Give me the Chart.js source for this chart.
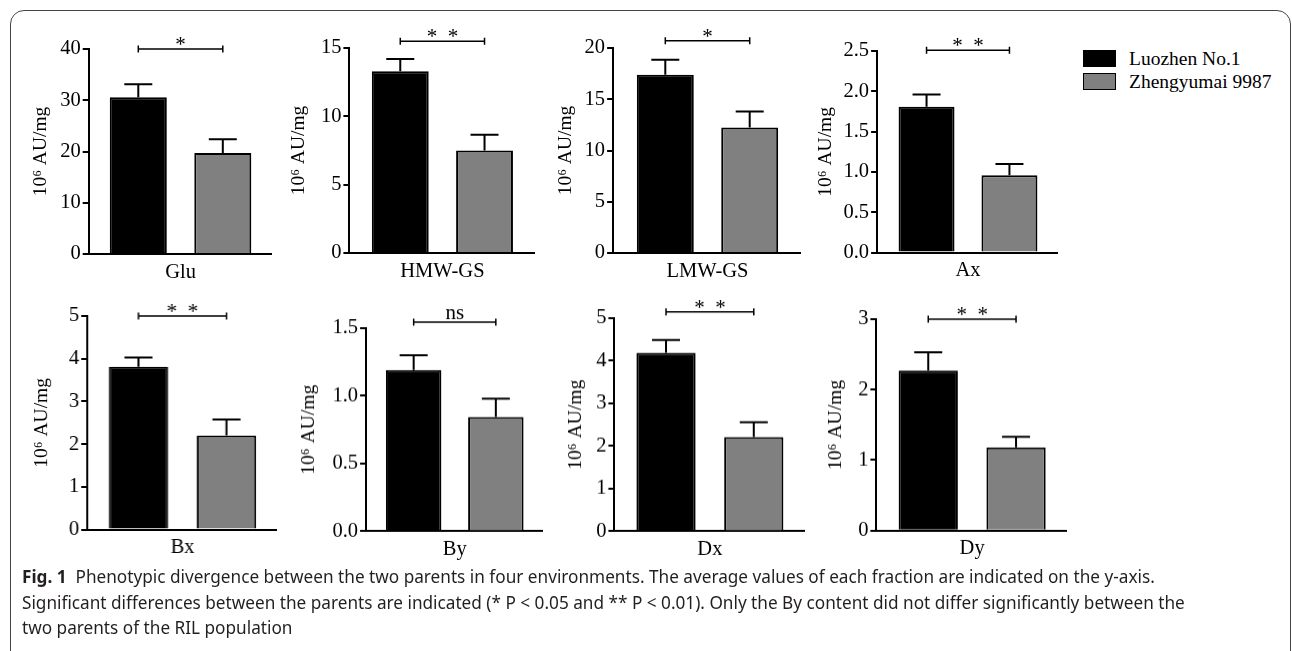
<!DOCTYPE html>
<html>
<head>
<meta charset="utf-8">
<script src="https://cdn.jsdelivr.net/npm/chart.js@4.4.0/dist/chart.umd.min.js"></script>
<style>
  body { margin: 0; background: #fff; width: 1292px; height: 651px; overflow: hidden; position: relative; }
  .frame { position: absolute; left: 10px; top: 10px; width: 1281px; height: 700px; border: 1.5px solid #444;
           border-radius: 14px 14px 0 0; box-sizing: border-box; }
  .panel { position: absolute; }
  .legend { position: absolute; left: 1083px; top: 50px; font-family: "Liberation Serif", serif; font-size: 19.5px; color: #000; }
  .legend .row { position: relative; height: 22.5px; }
  .legend .box { position: absolute; left: 0; top: 0; width: 33px; height: 17px; box-sizing: border-box; border: 1.5px solid #000; }
  .legend .txt { position: absolute; left: 46px; top: -2px; white-space: nowrap; }
  .caption { position: absolute; left: 22px; top: 564px; font-family: "Noto Sans", sans-serif; font-size: 17.2px;
             line-height: 25.5px; color: #231f20; white-space: nowrap; }
  .caption b { font-weight: 700; }
</style>
</head>
<body>
<div class="frame"></div>
<div id="charts"></div>
<div class="legend" id="legend"></div>
<div class="caption">
  <b>Fig. 1</b>&nbsp; Phenotypic divergence between the two parents in four environments. The average values of each fraction are indicated on the y-axis.<br>
  Significant differences between the parents are indicated (* P &lt; 0.05 and ** P &lt; 0.01). Only the By content did not differ significantly between the<br>
  two parents of the RIL population
</div>
<script>
// data van de figuur
var categories = ['Glu', 'HMW-GS', 'LMW-GS', 'Ax', 'Bx', 'By', 'Dx', 'Dy'];
var seriesNames = ['Luozhen No.1', 'Zhengyumai 9987'];
var luozhen = [30.6, 13.3, 17.4, 1.81, 3.81, 1.19, 4.19, 2.27];
var luozhenErr = [2.5, 0.9, 1.45, 0.15, 0.22, 0.11, 0.30, 0.26];
var zhengyumai = [19.7, 7.5, 12.25, 0.96, 2.2, 0.845, 2.21, 1.18];
var zhengyumaiErr = [2.7, 1.15, 1.55, 0.14, 0.38, 0.135, 0.35, 0.15];
var yMax = [40, 15, 20, 2.5, 5, 1.5, 5, 3];
var yStep = [10, 5, 5, 0.5, 1, 0.5, 1, 1];
var yDecimals = [0, 0, 0, 1, 0, 1, 0, 0];
var sigText = ['*', '*  *', '*', '*  *', '*  *', 'ns', '*  *', '*  *'];
var sigLevel = [40, 15.5, 20.7, 2.51, 5, 1.545, 5.15, 3];
var yTitle = '10\u2076 AU/mg';

// kleuren
var colors = ['#000000', '#808080'];

// plaats van elk paneel: y-as x, einde x-as, top, nullijn, midden y-titel, categoryPercentage
var layout = [
    [88.3, 272, 49, 254, 40, 0.92],
    [349, 535, 48.3, 253.3, 298, 0.906],
    [612.7, 801.5, 48.3, 253.3, 565, 0.894],
    [876.7, 1058.5, 50.7, 252.3, 825, 0.912],
    [87.3, 277, 315.7, 529.3, 41.7, 0.924],
    [365.7, 543, 328.3, 530.7, 308, 0.927],
    [614, 805, 318.3, 530.7, 575, 0.919],
    [876, 1067.5, 319.3, 530, 835, 0.917]
];

var serif = 'Liberation Serif';

// plugin voor foutbalken en significantie-lijn
var extrasPlugin = {
    id: 'extras',
    afterDatasetsDraw: function(chart) {
        var i = chart.options.plugins.extras.index;
        var ctx = chart.ctx;
        var y = chart.scales.y;
        var errs = [luozhenErr[i], zhengyumaiErr[i]];
        ctx.save();
        ctx.strokeStyle = '#000';
        ctx.lineWidth = 2;
        for (var d = 0; d < 2; d++) {
            var bar = chart.getDatasetMeta(d).data[0];
            var val = chart.data.datasets[d].data[0];
            var yTop = y.getPixelForValue(val + errs[d]);
            ctx.beginPath();
            ctx.moveTo(bar.x, bar.y);
            ctx.lineTo(bar.x, yTop);
            ctx.moveTo(bar.x - 14, yTop);
            ctx.lineTo(bar.x + 14, yTop);
            ctx.stroke();
        }
        // significantie
        var x1 = chart.getDatasetMeta(0).data[0].x;
        var x2 = chart.getDatasetMeta(1).data[0].x;
        var ys = y.getPixelForValue(sigLevel[i]);
        ctx.lineWidth = 1.5;
        ctx.beginPath();
        ctx.moveTo(x1, ys); ctx.lineTo(x2, ys);
        ctx.moveTo(x1, ys - 3.5); ctx.lineTo(x1, ys + 3.5);
        ctx.moveTo(x2, ys - 3.5); ctx.lineTo(x2, ys + 3.5);
        ctx.stroke();
        ctx.fillStyle = '#000';
        ctx.font = '21px "' + serif + '"';
        ctx.textAlign = 'center';
        ctx.textBaseline = 'alphabetic';
        var t = sigText[i];
        ctx.fillText(t, (x1 + x2) / 2, t == 'ns' ? ys - 3 : ys + 2);
        ctx.restore();
    }
};

function makePanel(i) {
    var lay = layout[i];
    var axisX = lay[0], xEnd = lay[1], topY = lay[2], zeroY = lay[3], titleX = lay[4];
    var padTop = 40, xH = 42;
    var left = titleX - 11.4; // halve regelhoogte van de titel
    var yW = axisX - left;
    var w = xEnd - left;
    var h = padTop + (zeroY - topY) + xH;

    var div = document.createElement('div');
    div.className = 'panel';
    div.style.left = left + 'px';
    div.style.top = (topY - padTop) + 'px';
    div.style.width = w + 'px';
    div.style.height = h + 'px';
    var canvas = document.createElement('canvas');
    div.appendChild(canvas);
    document.getElementById('charts').appendChild(div);

    return new Chart(canvas, {
        type: 'bar',
        data: {
            labels: [categories[i]],
            datasets: [
                { label: seriesNames[0], data: [luozhen[i]], backgroundColor: colors[0] },
                { label: seriesNames[1], data: [zhengyumai[i]], backgroundColor: colors[1] }
            ]
        },
        options: {
            responsive: true,
            maintainAspectRatio: false,
            animation: false,
            layout: { padding: { top: padTop, left: 0, right: 0, bottom: 0 } },
            datasets: {
                bar: { categoryPercentage: lay[5], barPercentage: 0.675, borderColor: '#000', borderWidth: 2 }
            },
            plugins: {
                legend: { display: false },
                tooltip: { enabled: false },
                extras: { index: i }
            },
            scales: {
                x: {
                    grid: { display: false, drawTicks: false },
                    border: { display: true, color: '#000', width: 2 },
                    ticks: { color: '#000', padding: 6, font: { family: serif, size: 20.5 } },
                    afterFit: function(s) { s.height = xH; }
                },
                y: {
                    min: 0,
                    max: yMax[i],
                    grid: { display: true, drawOnChartArea: false, drawTicks: true, tickLength: 6, color: '#000', lineWidth: 2 },
                    border: { display: true, color: '#000', width: 2 },
                    ticks: {
                        stepSize: yStep[i],
                        color: '#000',
                        padding: 2,
                        font: { family: serif, size: 20.5 },
                        callback: function(v) { return Number(v).toFixed(yDecimals[i]); }
                    },
                    title: {
                        display: true,
                        text: yTitle,
                        color: '#000',
                        padding: { top: 0, bottom: 0 },
                        font: { family: serif, size: 19.5 }
                    },
                    afterFit: function(s) { s.width = yW; }
                }
            }
        },
        plugins: [extrasPlugin]
    });
}

for (var i = 0; i < categories.length; i++) {
    makePanel(i);
}

// legenda
var leg = document.getElementById('legend');
for (var s = 0; s < seriesNames.length; s++) {
    var row = document.createElement('div');
    row.className = 'row';
    row.innerHTML = '<div class="box" style="background:' + colors[s] + '"></div><div class="txt">' + seriesNames[s] + '</div>';
    leg.appendChild(row);
}
</script>
</body>
</html>
